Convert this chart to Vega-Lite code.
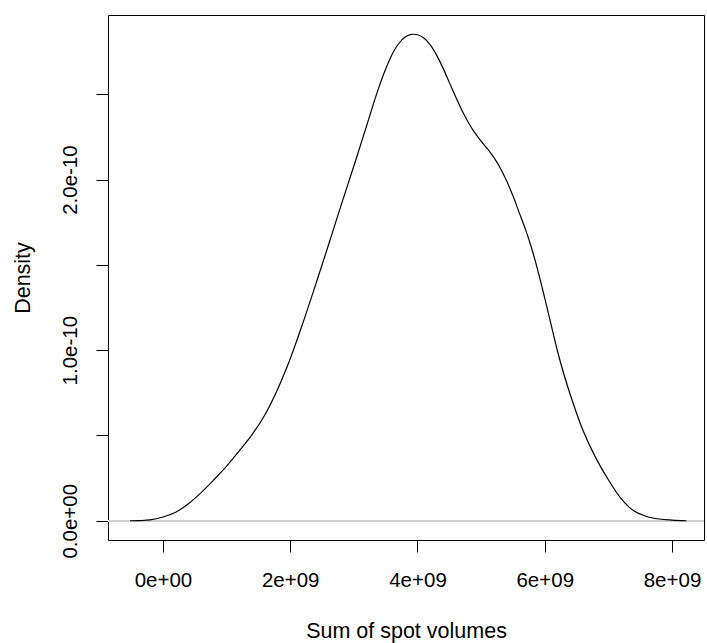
{
  "$schema": "https://vega.github.io/schema/vega-lite/v6.json",
  "width": 596,
  "height": 525,
  "autosize": "none",
  "padding": {"left": 108, "top": 15, "right": 3, "bottom": 103},
  "background": "white",
  "config": {
    "view": {"stroke": "#000", "strokeWidth": 1},
    "font": "Liberation Sans",
    "axis": {
      "domain": false,
      "grid": false,
      "tickColor": "#000",
      "tickSize": 12,
      "tickWidth": 1,
      "labelColor": "#000",
      "labelFont": "Liberation Sans",
      "labelFontSize": 20.5,
      "titleColor": "#000",
      "titleFont": "Liberation Sans",
      "titleFontSize": 21.5,
      "titleFontWeight": "normal",
      "labelOverlap": false,
      "labelFlush": false
    }
  },
  "data": {
    "values": [
      {"x": -0.518e9, "y": 0.000e-10},
      {"x": -0.361e9, "y": 0.001e-10},
      {"x": -0.204e9, "y": 0.005e-10},
      {"x": 0.0e9, "y": 0.022e-10},
      {"x": 0.2e9, "y": 0.050e-10},
      {"x": 0.4e9, "y": 0.100e-10},
      {"x": 0.6e9, "y": 0.165e-10},
      {"x": 0.8e9, "y": 0.240e-10},
      {"x": 1.0e9, "y": 0.320e-10},
      {"x": 1.2e9, "y": 0.410e-10},
      {"x": 1.4e9, "y": 0.505e-10},
      {"x": 1.6e9, "y": 0.620e-10},
      {"x": 1.8e9, "y": 0.770e-10},
      {"x": 2.0e9, "y": 0.950e-10},
      {"x": 2.2e9, "y": 1.160e-10},
      {"x": 2.4e9, "y": 1.385e-10},
      {"x": 2.6e9, "y": 1.615e-10},
      {"x": 2.8e9, "y": 1.850e-10},
      {"x": 3.0e9, "y": 2.080e-10},
      {"x": 3.2e9, "y": 2.315e-10},
      {"x": 3.3e9, "y": 2.435e-10},
      {"x": 3.4e9, "y": 2.548e-10},
      {"x": 3.5e9, "y": 2.648e-10},
      {"x": 3.6e9, "y": 2.733e-10},
      {"x": 3.7e9, "y": 2.795e-10},
      {"x": 3.8e9, "y": 2.834e-10},
      {"x": 3.9e9, "y": 2.851e-10},
      {"x": 3.95e9, "y": 2.852e-10},
      {"x": 4.0e9, "y": 2.849e-10},
      {"x": 4.1e9, "y": 2.830e-10},
      {"x": 4.2e9, "y": 2.790e-10},
      {"x": 4.3e9, "y": 2.730e-10},
      {"x": 4.4e9, "y": 2.655e-10},
      {"x": 4.5e9, "y": 2.570e-10},
      {"x": 4.6e9, "y": 2.485e-10},
      {"x": 4.7e9, "y": 2.405e-10},
      {"x": 4.8e9, "y": 2.335e-10},
      {"x": 4.9e9, "y": 2.275e-10},
      {"x": 5.0e9, "y": 2.225e-10},
      {"x": 5.1e9, "y": 2.180e-10},
      {"x": 5.2e9, "y": 2.130e-10},
      {"x": 5.3e9, "y": 2.068e-10},
      {"x": 5.4e9, "y": 1.993e-10},
      {"x": 5.5e9, "y": 1.905e-10},
      {"x": 5.6e9, "y": 1.805e-10},
      {"x": 5.7e9, "y": 1.705e-10},
      {"x": 5.8e9, "y": 1.590e-10},
      {"x": 5.9e9, "y": 1.455e-10},
      {"x": 6.0e9, "y": 1.305e-10},
      {"x": 6.1e9, "y": 1.150e-10},
      {"x": 6.2e9, "y": 0.995e-10},
      {"x": 6.3e9, "y": 0.860e-10},
      {"x": 6.4e9, "y": 0.740e-10},
      {"x": 6.6e9, "y": 0.530e-10},
      {"x": 6.8e9, "y": 0.370e-10},
      {"x": 7.0e9, "y": 0.240e-10},
      {"x": 7.2e9, "y": 0.130e-10},
      {"x": 7.4e9, "y": 0.058e-10},
      {"x": 7.6e9, "y": 0.025e-10},
      {"x": 7.8e9, "y": 0.010e-10},
      {"x": 8.0e9, "y": 0.004e-10},
      {"x": 8.227e9, "y": 0.000e-10}
    ]
  },
  "layer": [
    {
      "mark": {"type": "rule", "color": "#d0d0d0", "strokeWidth": 1.2},
      "encoding": {"y": {"datum": 0, "type": "quantitative"}}
    },
    {
      "mark": {"type": "line", "color": "#000", "strokeWidth": 1.2, "interpolate": "catmull-rom", "clip": true},
      "encoding": {
        "x": {
          "field": "x",
          "type": "quantitative",
          "scale": {"domain": [-0.864e9, 8.503e9], "nice": false, "zero": false},
          "axis": {
            "title": "Sum of spot volumes",
            "values": [0, 2e9, 4e9, 6e9, 8e9],
            "labelExpr": "datum.value == 0 ? '0e+00' : format(datum.value/1e9, 'd') + 'e+09'",
            "labelPadding": 18,
            "titlePadding": 30
          }
        },
        "y": {
          "field": "y",
          "type": "quantitative",
          "scale": {"domain": [-0.113e-10, 2.965e-10], "nice": false, "zero": false},
          "axis": {
            "title": "Density",
            "values": [0, 0.5e-10, 1e-10, 1.5e-10, 2e-10, 2.5e-10],
            "labelAngle": -90,
            "labelAlign": "center",
            "labelBaseline": "bottom",
            "labelExpr": "round(datum.value*2e10) % 2 == 1 ? '' : (round(datum.value*1e10) == 0 ? '0.0e+00' : format(datum.value*1e10, '.1f') + 'e-10')",
            "labelPadding": 16,
            "titlePadding": 26
          }
        }
      }
    }
  ]
}
